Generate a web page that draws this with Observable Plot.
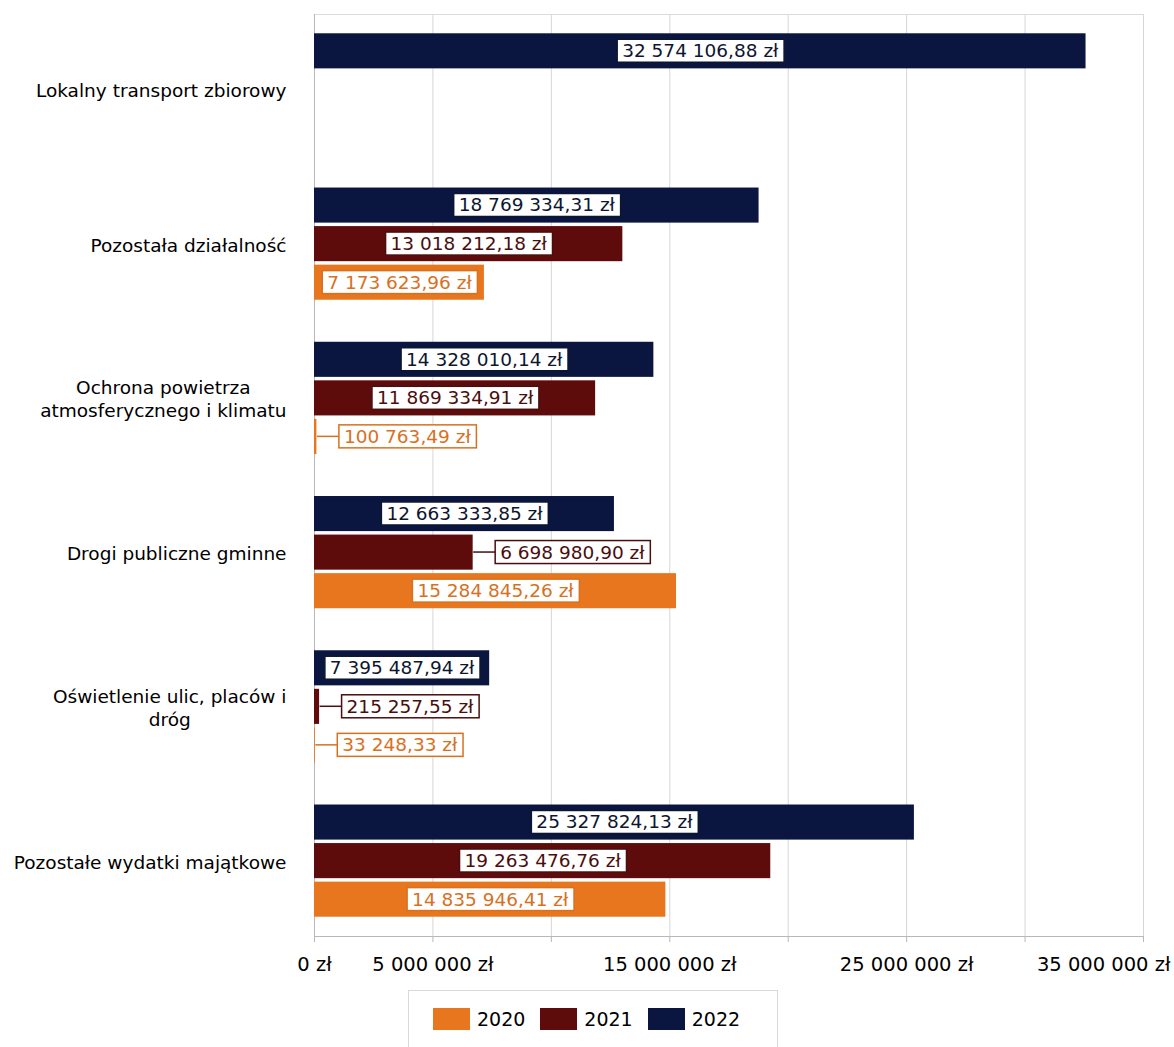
<!DOCTYPE html>
<html><head><meta charset="utf-8">
<script src="https://cdn.jsdelivr.net/npm/d3@7"></script>
<script src="https://cdn.jsdelivr.net/npm/@observablehq/plot@0.6"></script>
<style>
body{margin:0;background:#fff;font-family:"DejaVu Sans",sans-serif;}
#legend{margin-left:408px;width:370px;height:70px;border:1px solid #d9d9d9;box-sizing:border-box;display:flex;align-items:flex-start;padding-top:17px;padding-left:24px;font-family:"DejaVu Sans",sans-serif;font-size:19px;color:#000;}
#legend .sw{width:37px;height:22px;margin-right:7px;}
#legend .lb{margin-right:15px;line-height:22px;}
</style></head><body><div id="chart"></div><div id="legend"></div>
<script>
const categories = [
  "Lokalny transport zbiorowy",
  "Pozostała działalność",
  "Ochrona powietrza atmosferycznego i klimatu",
  "Drogi publiczne gminne",
  "Oświetlenie ulic, placów i dróg",
  "Pozostałe wydatki majątkowe"
];
const categoryLabels = [
  "Lokalny transport zbiorowy",
  "Pozostała działalność",
  "Ochrona powietrza\natmosferycznego i klimatu",
  "Drogi publiczne gminne",
  "Oświetlenie ulic, placów i\ndróg",
  "Pozostałe wydatki majątkowe"
];
const years = ["2020", "2021", "2022"];
const values2020 = [null, 7173623.96, 100763.49, 15284845.26, 33248.33, 14835946.41];
const values2021 = [null, 13018212.18, 11869334.91, 6698980.90, 215257.55, 19263476.76];
const values2022 = [32574106.88, 18769334.31, 14328010.14, 12663333.85, 7395487.94, 25327824.13];
const xTicks = [0, 5000000, 10000000, 15000000, 20000000, 25000000, 30000000, 35000000];
const xTickLabels = [0, 5000000, 15000000, 25000000];
const xLastLabel = [35000000];

const barColors = {"2020": "#e8761e", "2021": "#5e0b0b", "2022": "#0b1640"};
const textColors = {"2020": "#d8711f", "2021": "#4a0e0e", "2022": "#0d1630"};
const insideThreshold = 7000000;

const pl = d3.formatLocale({decimal: ",", thousands: " ", grouping: [3], currency: ["", " zł"]});
const fmtVal = v => pl.format(",.2f")(v) + " zł";
const fmtTick = v => pl.format(",d")(v) + " zł";

const series = {"2020": values2020, "2021": values2021, "2022": values2022};
const rows = [];
const domain = [];
categories.forEach((c, i) => {
  if (i > 0) domain.push(c + "|gap");
  ["2022", "2021", "2020"].forEach(y => {
    domain.push(c + "|" + y);
    const v = series[y][i];
    if (v != null) rows.push({category: c, year: y, value: v, key: c + "|" + y});
  });
});
const midKeys = categories.map(c => c + "|2021");
const labelMap = new Map(categories.map((c, i) => [c + "|2021", categoryLabels[i]]));

const labelMarks = [];
years.forEach(yr => {
  const inside = rows.filter(r => r.year === yr && r.value >= insideThreshold);
  const outside = rows.filter(r => r.year === yr && r.value < insideThreshold);
  labelMarks.push(Plot.text(inside, {
    x: d => d.value / 2, y: "key", text: d => fmtVal(d.value),
    textAnchor: "middle", fill: textColors[yr], fontSize: 18.5,
    ariaDescription: "lab-" + yr + "-in"
  }));
  labelMarks.push(Plot.text(outside, {
    x: "value", y: "key", text: d => fmtVal(d.value),
    textAnchor: "start", dx: 27, fill: textColors[yr], fontSize: 18.5,
    ariaDescription: "lab-" + yr + "-out"
  }));
});

const chart = Plot.plot({
  width: 1174, height: 990,
  marginLeft: 314, marginRight: 31, marginTop: 14, marginBottom: 54,
  style: {fontFamily: "DejaVu Sans", fontSize: "18px", color: "#000", background: "#fff"},
  x: {domain: [0, 35000000], axis: null},
  y: {domain, paddingInner: 0.09, paddingOuter: 0.5, round: false, axis: null},
  color: {domain: years, range: years.map(y => barColors[y])},
  marks: [
    Plot.gridX(xTicks, {stroke: "#d6d6d6", strokeOpacity: 1}),
    Plot.frame({anchor: "top", stroke: "#dcdcdc"}),
    Plot.axisX(xTicks, {tickSize: 6, tickFormat: () => "", stroke: "#b8b8b8", label: null}),
    Plot.frame({anchor: "bottom", stroke: "#b8b8b8"}),
    Plot.ruleX([0], {stroke: "#b8b8b8"}),
    Plot.axisX(xTickLabels, {tickSize: 0, tickPadding: 21, tickFormat: fmtTick, fontSize: 19.5, fill: "#000", label: null}),
    Plot.axisX(xLastLabel, {tickSize: 0, tickPadding: 21, tickFormat: fmtTick, textAnchor: "end", dx: 27, fontSize: 19.5, fill: "#000", label: null}),
    Plot.axisY(midKeys, {tickSize: 0, tickPadding: 28, tickFormat: k => labelMap.get(k), fontSize: 18.5, lineHeight: 1.25, fill: "#000", label: null, ariaDescription: "catlabels"}),
    Plot.barX(rows, {x: "value", y: "key", fill: "year"}),
    ...labelMarks
  ]
});
document.getElementById("chart").append(chart);

// label boxes and leader lines
const NS = "http://www.w3.org/2000/svg";
years.forEach(yr => {
  ["in", "out"].forEach(kind => {
    const g = chart.querySelector(`g[aria-description="lab-${yr}-${kind}"]`);
    if (!g) return;
    g.querySelectorAll("text").forEach(t => {
      const bb = t.getBBox();
      const tr = t.getAttribute("transform");
      const r = document.createElementNS(NS, "rect");
      r.setAttribute("x", bb.x - 5);
      r.setAttribute("y", bb.y - 1);
      r.setAttribute("width", bb.width + 10);
      r.setAttribute("height", bb.height + 2);
      r.setAttribute("fill", "#fff");
      r.setAttribute("stroke", textColors[yr]);
      r.setAttribute("stroke-width", 1.5);
      if (tr) r.setAttribute("transform", tr);
      g.insertBefore(r, t);
      if (kind === "out") {
        const l = document.createElementNS(NS, "line");
        l.setAttribute("x1", -27);
        l.setAttribute("x2", bb.x - 5);
        l.setAttribute("y1", bb.y + bb.height / 2);
        l.setAttribute("y2", bb.y + bb.height / 2);
        l.setAttribute("stroke", textColors[yr]);
        l.setAttribute("stroke-width", 1.5);
        if (tr) l.setAttribute("transform", tr);
        g.insertBefore(l, r);
      }
    });
  });
});
// center multi-line category labels as blocks
const cg = chart.querySelector('g[aria-description="catlabels"]');
if (cg) cg.querySelectorAll("text").forEach(t => {
  const ts = t.querySelectorAll("tspan");
  if (ts.length > 1) {
    const w = t.getBBox().width;
    t.setAttribute("text-anchor", "middle");
    ts.forEach(s => s.setAttribute("x", -w / 2));
  }
});

// legend
const leg = document.getElementById("legend");
years.forEach(y => {
  const s = document.createElement("div"); s.className = "sw"; s.style.background = barColors[y];
  const l = document.createElement("div"); l.className = "lb"; l.textContent = y;
  leg.append(s, l);
});
</script></body></html>
